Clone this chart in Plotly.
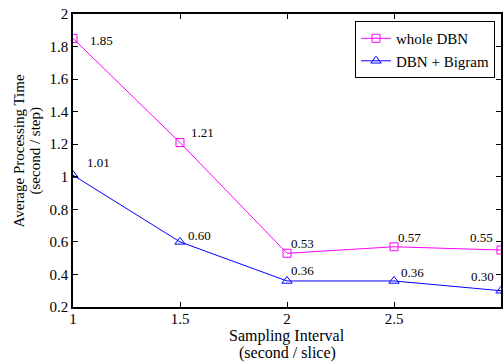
import plotly.graph_objects as go

intervals = [1, 1.5, 2, 2.5, 3]
whole_dbn = [1.85, 1.21, 0.53, 0.57, 0.55]
dbn_bigram = [1.01, 0.60, 0.36, 0.36, 0.30]
whole_labels = ["1.85", "1.21", "0.53", "0.57", "0.55"]
bigram_labels = ["1.01", "0.60", "0.36", "0.36", "0.30"]
x_title_lines = ["Sampling Interval", "(second / slice)"]
y_title_lines = ["Average Processing Time", "(second / step)"]

# label placement (pixel shifts; style only)
whole_off = [(15, -2, "left"), (9, 10, "left"), (2, 10, "left"), (2, 9, "left"), (-6, 13, "right")]
bigram_off = [(12, 13, "left"), (6, 6, "left"), (2, 10, "left"), (5, 8, "left"), (-5, 14, "right")]

FONT = "Liberation Serif, serif"

fig = go.Figure()
fig.add_trace(go.Scatter(
    x=intervals, y=whole_dbn, name="whole DBN", mode="lines+markers",
    line=dict(color="#FF00FF", width=1),
    marker=dict(symbol="square-open", size=8, color="#FF00FF", line=dict(width=1)),
))
fig.add_trace(go.Scatter(
    x=intervals, y=dbn_bigram, name="DBN + Bigram", mode="lines+markers",
    line=dict(color="#0000FF", width=1),
    marker=dict(symbol="triangle-up-open", size=9, color="#0000FF", line=dict(width=1)),
))

anns = []
for xs, ys, labs, offs in [(intervals, whole_dbn, whole_labels, whole_off),
                           (intervals, dbn_bigram, bigram_labels, bigram_off)]:
    for x, y, t, (dx, dy, anc) in zip(xs, ys, labs, offs):
        anns.append(dict(x=x, y=y, xref="x", yref="y", text=t, showarrow=False,
                         xanchor=anc, yanchor="middle", xshift=dx, yshift=dy,
                         font=dict(family=FONT, size=13, color="black")))

for i, t in enumerate(x_title_lines):
    anns.append(dict(x=0.5, y=0, xref="paper", yref="paper", text=t, showarrow=False,
                     xanchor="center", yanchor="middle", yshift=-29 - 17 * i,
                     font=dict(family=FONT, size=16, color="black")))
for i, t in enumerate(y_title_lines):
    anns.append(dict(x=0, y=0.5, xref="paper", yref="paper", text=t, showarrow=False,
                     xanchor="center", yanchor="middle", xshift=-55 + 17 * i, yshift=9,
                     textangle=-90,
                     font=dict(family=FONT, size=15, color="black")))

fig.update_layout(
    width=503, height=362,
    margin=dict(l=73, r=2, t=14, b=55, autoexpand=False),
    paper_bgcolor="white", plot_bgcolor="white",
    font=dict(family=FONT, size=15, color="black"),
    showlegend=True,
    legend=dict(x=0.986, y=0.976, xanchor="right", yanchor="top",
                bgcolor="white", bordercolor="black", borderwidth=1,
                font=dict(family=FONT, size=15), tracegroupgap=0),
    annotations=anns,
)
fig.update_xaxes(
    range=[1, 3], tickvals=[1, 1.5, 2, 2.5, 3], ticktext=["1", "1.5", "2", "2.5", "3"],
    ticks="inside", ticklen=5, tickcolor="black", showline=True, linecolor="black",
    linewidth=1.5, mirror="ticks", showgrid=False, zeroline=False, automargin=False,
    tickfont=dict(family=FONT, size=15), ticklabelstandoff=-3,
)
fig.update_yaxes(
    range=[0.2, 2], tickvals=[0.2, 0.4, 0.6, 0.8, 1, 1.2, 1.4, 1.6, 1.8, 2],
    ticktext=["0.2", "0.4", "0.6", "0.8", "1", "1.2", "1.4", "1.6", "1.8", "2"],
    ticks="inside", ticklen=5, tickcolor="black", showline=True, linecolor="black",
    linewidth=1.5, mirror="ticks", showgrid=False, zeroline=False, automargin=False,
    tickfont=dict(family=FONT, size=15),
)

fig.write_html("out.html", config={"displayModeBar": False},
               post_script="document.body.style.margin='0';document.body.style.overflow='hidden';")
